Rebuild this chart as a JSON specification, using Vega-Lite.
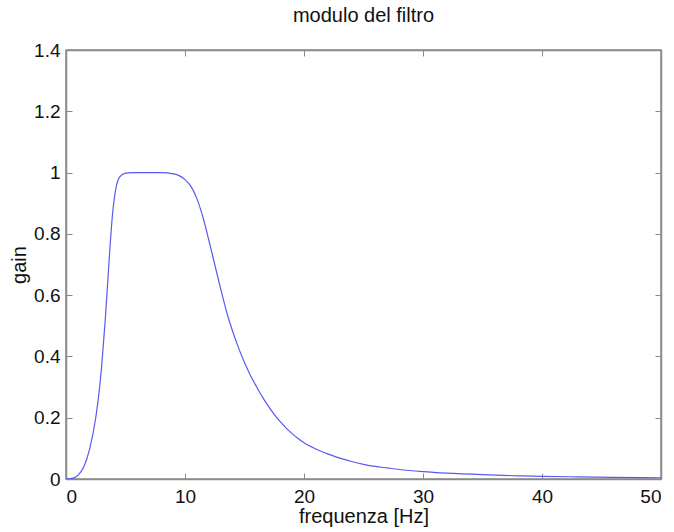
{
  "$schema": "https://vega.github.io/schema/vega-lite/v6.json",
  "width": 595,
  "height": 429,
  "autosize": {"type": "none"},
  "padding": {"left": 66, "top": 50, "right": 13, "bottom": 53},
  "background": "white",
  "title": {"text": "modulo del filtro", "fontSize": 20, "font": "Liberation Sans", "fontWeight": "normal", "color": "#111", "offset": 15},
  "config": {
    "view": {"stroke": "#8a8a8a", "strokeWidth": 1.5},
    "axis": {"grid": false, "domainColor": "#8a8a8a", "domainWidth": 1.5, "tickColor": "#8a8a8a", "tickSize": -6, "tickWidth": 1, "labelFont": "Liberation Sans", "labelFontSize": 19, "labelColor": "#111", "titleFont": "Liberation Sans", "titleFontWeight": "normal", "titleColor": "#111", "titleFontSize": 20}
  },
  "data": {"values": [
    {"f": 0, "g": 0}, {"f": 0.5, "g": 0.002}, {"f": 1.0, "g": 0.012}, {"f": 1.5, "g": 0.04},
    {"f": 2.0, "g": 0.1}, {"f": 2.5, "g": 0.2}, {"f": 2.8, "g": 0.29}, {"f": 3.0, "g": 0.37},
    {"f": 3.3, "g": 0.52}, {"f": 3.6, "g": 0.7}, {"f": 3.9, "g": 0.86}, {"f": 4.2, "g": 0.95},
    {"f": 4.5, "g": 0.985}, {"f": 5.0, "g": 0.998}, {"f": 5.5, "g": 1.0}, {"f": 6, "g": 1.0},
    {"f": 7, "g": 1.0}, {"f": 8, "g": 1.0}, {"f": 8.5, "g": 0.999}, {"f": 9.0, "g": 0.996},
    {"f": 9.5, "g": 0.99}, {"f": 10.0, "g": 0.977}, {"f": 10.5, "g": 0.955}, {"f": 11.0, "g": 0.915},
    {"f": 11.5, "g": 0.855}, {"f": 12.0, "g": 0.78}, {"f": 12.5, "g": 0.7}, {"f": 13.0, "g": 0.62},
    {"f": 13.5, "g": 0.545}, {"f": 14.0, "g": 0.482}, {"f": 14.5, "g": 0.428}, {"f": 15.0, "g": 0.38},
    {"f": 15.5, "g": 0.338}, {"f": 16.0, "g": 0.302}, {"f": 16.5, "g": 0.268}, {"f": 17.0, "g": 0.238},
    {"f": 17.5, "g": 0.211}, {"f": 18.0, "g": 0.187}, {"f": 18.5, "g": 0.166}, {"f": 19.0, "g": 0.148},
    {"f": 19.5, "g": 0.132}, {"f": 20.0, "g": 0.118}, {"f": 21, "g": 0.098}, {"f": 22, "g": 0.082},
    {"f": 23, "g": 0.068}, {"f": 24, "g": 0.057}, {"f": 25, "g": 0.048}, {"f": 26, "g": 0.041},
    {"f": 27, "g": 0.036}, {"f": 28, "g": 0.031}, {"f": 30, "g": 0.024}, {"f": 32, "g": 0.019},
    {"f": 35, "g": 0.014}, {"f": 38, "g": 0.0105}, {"f": 40, "g": 0.0088}, {"f": 43, "g": 0.007},
    {"f": 46, "g": 0.0055}, {"f": 50, "g": 0.004}
  ]},
  "layer": [
    {
      "mark": {"type": "line", "color": "#5a5af0", "strokeWidth": 1.2, "interpolate": "monotone", "clip": true},
      "encoding": {
        "x": {"field": "f", "type": "quantitative", "scale": {"domain": [0, 50], "nice": false}, "axis": {"orient": "bottom", "values": [0, 10, 20, 30, 40, 50], "title": "frequenza [Hz]", "labelPadding": 14, "titlePadding": 0}},
        "y": {"field": "g", "type": "quantitative", "scale": {"domain": [0, 1.4], "nice": false}, "axis": {"orient": "left", "values": [0, 0.2, 0.4, 0.6, 0.8, 1, 1.2, 1.4], "format": "~g", "title": "gain", "labelPadding": 12, "titlePadding": 4}}
      }
    },
    {
      "mark": {"type": "line", "opacity": 0},
      "encoding": {
        "x": {"field": "f", "type": "quantitative", "scale": {"domain": [0, 50], "nice": false}, "axis": {"orient": "top", "values": [0, 10, 20, 30, 40, 50], "labels": false, "title": null}},
        "y": {"field": "g", "type": "quantitative", "scale": {"domain": [0, 1.4], "nice": false}, "axis": {"orient": "right", "values": [0, 0.2, 0.4, 0.6, 0.8, 1, 1.2, 1.4], "labels": false, "title": null}}
      }
    }
  ],
  "resolve": {"axis": {"x": "independent", "y": "independent"}}
}
